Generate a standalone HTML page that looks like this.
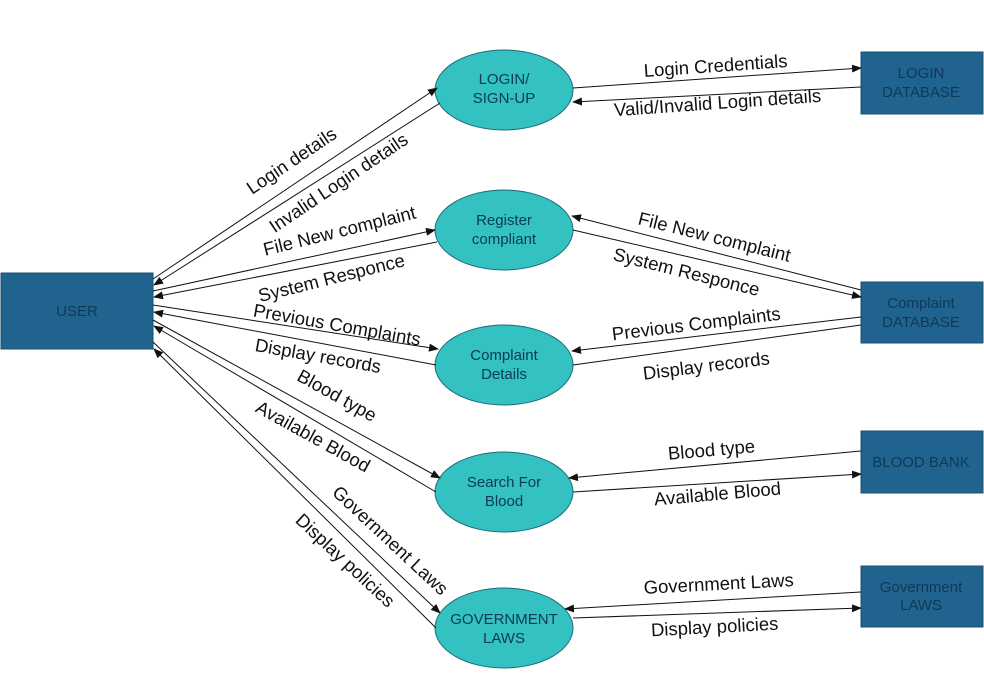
<!DOCTYPE html>
<html><head><meta charset="utf-8"><style>
html,body{margin:0;padding:0;background:#fff;width:984px;height:690px;overflow:hidden}
svg text{font-family:"Liberation Sans",Arial,sans-serif}
</style></head><body>
<svg width="984" height="690" viewBox="0 0 984 690" xmlns="http://www.w3.org/2000/svg">
<defs>
<marker id="a" markerWidth="10" markerHeight="8" refX="9" refY="4" orient="auto" markerUnits="userSpaceOnUse">
<path d="M0,0 L10,4 L0,8 z" fill="#111"/></marker>
</defs>
<g fill="#21638f" stroke="#1a4f72" stroke-width="1">
<rect x="1" y="273" width="152" height="76"/>
<rect x="861" y="52" width="122" height="62"/>
<rect x="861" y="282" width="122" height="61"/>
<rect x="861" y="431" width="122" height="62"/>
<rect x="861" y="566" width="122" height="61"/>
</g>
<g fill="#33c1c1" stroke="#1c6c7a" stroke-width="1">
<ellipse cx="504" cy="90" rx="69" ry="40"/>
<ellipse cx="504" cy="230" rx="69" ry="40"/>
<ellipse cx="504" cy="365" rx="69" ry="40"/>
<ellipse cx="504" cy="492" rx="69" ry="40"/>
<ellipse cx="504" cy="628" rx="69" ry="40"/>
</g>
<g fill="#0d3a56" font-size="15" text-anchor="middle">
<text x="77" y="316">USER</text>
<text x="921" y="78">LOGIN</text><text x="921" y="97">DATABASE</text>
<text x="921" y="308">Complaint</text><text x="921" y="327">DATABASE</text>
<text x="921" y="467">BLOOD BANK</text>
<text x="921" y="592">Government</text><text x="921" y="610">LAWS</text>
<text x="504" y="84">LOGIN/</text><text x="504" y="103">SIGN-UP</text>
<text x="504" y="225">Register</text><text x="504" y="244">compliant</text>
<text x="504" y="360">Complaint</text><text x="504" y="379">Details</text>
<text x="504" y="487">Search For</text><text x="504" y="506">Blood</text>
<text x="504" y="624">GOVERNMENT</text><text x="504" y="643">LAWS</text>
</g>
<g stroke="#111" stroke-width="1" fill="none">
<line x1="153" y1="279" x2="437" y2="88" marker-end="url(#a)"/>
<line x1="440" y1="103" x2="154" y2="285" marker-end="url(#a)"/>
<line x1="153" y1="291" x2="435" y2="230" marker-end="url(#a)"/>
<line x1="437" y1="242" x2="154" y2="297" marker-end="url(#a)"/>
<line x1="153" y1="305" x2="438" y2="349" marker-end="url(#a)"/>
<line x1="436" y1="365" x2="154" y2="312" marker-end="url(#a)"/>
<line x1="153" y1="320" x2="440" y2="478" marker-end="url(#a)"/>
<line x1="436" y1="492" x2="154" y2="326" marker-end="url(#a)"/>
<line x1="153" y1="342" x2="440" y2="613" marker-end="url(#a)"/>
<line x1="436" y1="628" x2="154" y2="349" marker-end="url(#a)"/>
<line x1="573" y1="88" x2="861" y2="68" marker-end="url(#a)"/>
<line x1="861" y1="87" x2="573" y2="102" marker-end="url(#a)"/>
<line x1="861" y1="290" x2="572" y2="216" marker-end="url(#a)"/>
<line x1="573" y1="230" x2="861" y2="297" marker-end="url(#a)"/>
<line x1="861" y1="317" x2="572" y2="351" marker-end="url(#a)"/>
<line x1="573" y1="365" x2="861" y2="325"/>
<line x1="861" y1="451" x2="569" y2="478" marker-end="url(#a)"/>
<line x1="573" y1="492" x2="861" y2="474" marker-end="url(#a)"/>
<line x1="861" y1="592" x2="565" y2="609" marker-end="url(#a)"/>
<line x1="573" y1="618" x2="861" y2="608" marker-end="url(#a)"/>
</g>
<g fill="#111" font-size="18.5" text-anchor="middle">
<text transform="translate(295,166) rotate(-34)">Login details</text>
<text transform="translate(342,188) rotate(-34)">Invalid Login details</text>
<text transform="translate(341,237) rotate(-14)">File New complaint</text>
<text transform="translate(333,284) rotate(-14)">System Responce</text>
<text transform="translate(336,331) rotate(10)">Previous Complaints</text>
<text transform="translate(317,362) rotate(10)">Display records</text>
<text transform="translate(334,401) rotate(29)">Blood type</text>
<text transform="translate(310,442) rotate(29)">Available Blood</text>
<text transform="translate(386,545) rotate(43)">Government Laws</text>
<text transform="translate(341,565) rotate(43)">Display policies</text>
<text transform="translate(716,72) rotate(-4)">Login Credentials</text>
<text transform="translate(718,109) rotate(-4)">Valid/Invalid Login details</text>
<text transform="translate(713,243) rotate(14)">File New complaint</text>
<text transform="translate(685,278) rotate(14)">System Responce</text>
<text transform="translate(697,330) rotate(-7)">Previous Complaints</text>
<text transform="translate(707,372) rotate(-7)">Display records</text>
<text transform="translate(712,456) rotate(-5)">Blood type</text>
<text transform="translate(718,500) rotate(-5)">Available Blood</text>
<text transform="translate(719,590) rotate(-3)">Government Laws</text>
<text transform="translate(715,633) rotate(-3)">Display policies</text>
</g>
</svg>
</body></html>
